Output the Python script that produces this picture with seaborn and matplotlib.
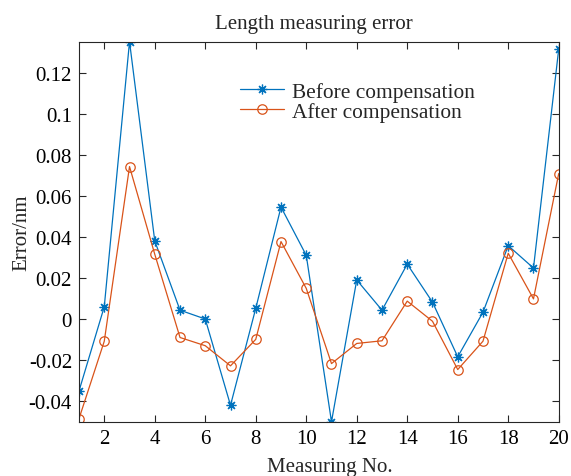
import numpy as np
import pandas as pd
import matplotlib
matplotlib.use("Agg")
import matplotlib.pyplot as plt
import seaborn as sns
from matplotlib.ticker import FuncFormatter

# Measurement index and errors (nm)
measuring_no = list(range(1, 21))
before_comp = [-0.035, 0.006, 0.135, 0.038, 0.0043, 0.0, -0.042, 0.0052, 0.0545, 0.031,
               -0.050, 0.019, 0.0043, 0.0267, 0.0082, -0.0184, 0.0033, 0.0357, 0.0248, 0.1314]
after_comp = [-0.0485, -0.0108, 0.0742, 0.0315, -0.009, -0.013, -0.0228, -0.0099, 0.0377, 0.0149,
              -0.0217, -0.0119, -0.0106, 0.0087, -0.0011, -0.0246, -0.0108, 0.032, 0.0098, 0.0708]
series_names = ["Before compensation", "After compensation"]
x_ticks = list(range(2, 21, 2))
y_ticks = [-0.04, -0.02, 0.0, 0.02, 0.04, 0.06, 0.08, 0.10, 0.12]

sns.set_style("white")
plt.rcParams["font.family"] = ["Liberation Serif", "DejaVu Serif"]

fig = plt.figure(figsize=(5.71, 4.77), dpi=100)
ax = fig.add_axes([0.1384, 0.1138, 0.8401, 0.7967])

colors = ["#0072BD", "#D95319"]
markers = [(8, 2, 0), "o"]
sizes = [7, 6.8]
for vals, name, c, m, ms in zip([before_comp, after_comp], series_names, colors, markers, sizes):
    sns.lineplot(x=measuring_no, y=vals, ax=ax, color=c, linewidth=0.9,
                 marker=m, markersize=ms, markerfacecolor="none",
                 markeredgecolor=c, markeredgewidth=0.9, label=name)

ax.set_xlim(1, 20)
ax.set_ylim(-0.05, 0.135)
ax.set_xticks(x_ticks)
ax.set_yticks(y_ticks)
ax.yaxis.set_major_formatter(FuncFormatter(lambda v, p: ("%g" % round(v, 4))))

axis_col = "#262626"
for s in ax.spines.values():
    s.set_color(axis_col)
    s.set_linewidth(0.8)
ax.tick_params(direction="in", length=5, width=0.8, colors=axis_col,
               labelcolor="black", labelsize=15, top=True, right=True,
               bottom=True, left=True, labeltop=False, labelright=False, pad=5)

ax.set_xlabel("Measuring No.", fontsize=15, labelpad=7, x=0.523)
ax.set_ylabel("Error/nm", fontsize=15, labelpad=-2)
ax.set_title("Length measuring error", fontsize=15, pad=10, x=0.49)

leg = ax.legend(loc="upper left", bbox_to_anchor=(0.3356, 0.894), frameon=False,
                fontsize=15.4, handlelength=2.05, handletextpad=0.38,
                labelspacing=0.0, borderaxespad=0, borderpad=0)

fig.savefig("out.png", dpi=100)
